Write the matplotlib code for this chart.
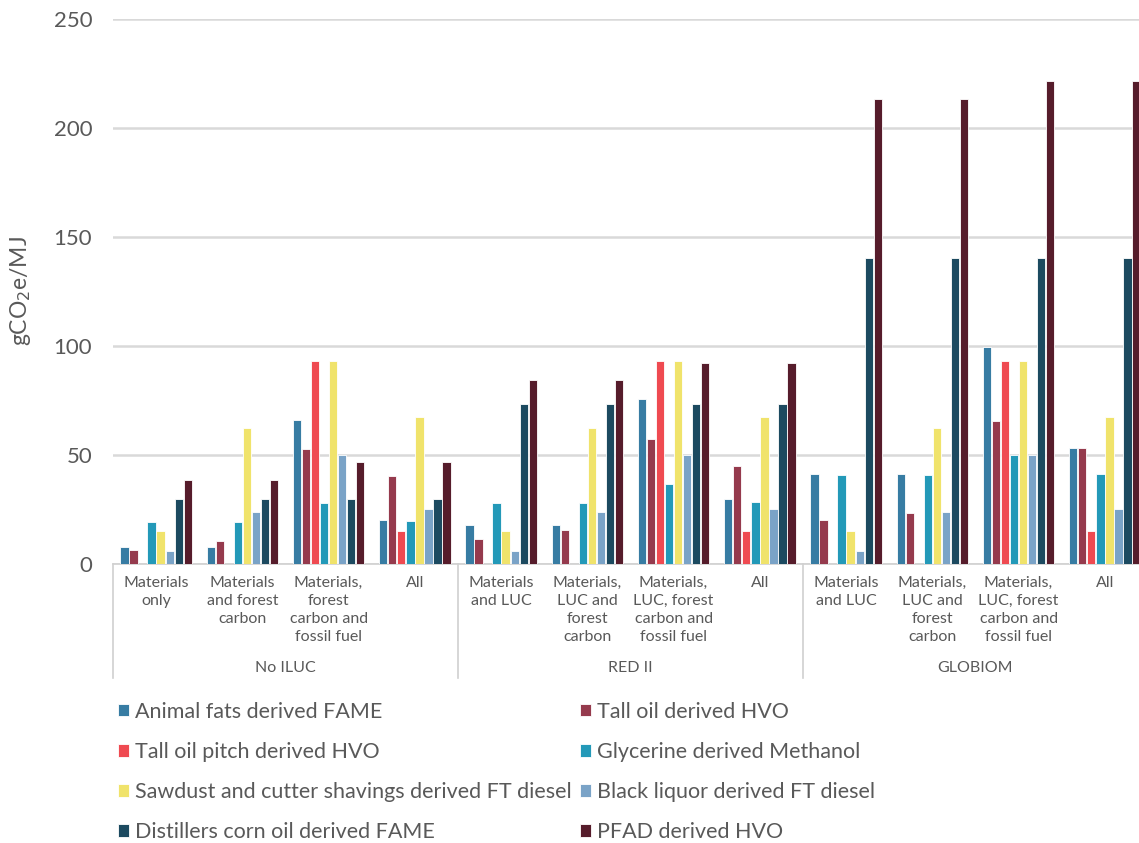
import numpy as np
import matplotlib
matplotlib.use('Agg')
import matplotlib.pyplot as plt

plt.rcParams['font.family'] = ['Lato', 'DejaVu Sans']

series = ['Animal fats derived FAME', 'Tall oil derived HVO', 'Tall oil pitch derived HVO',
          'Glycerine derived Methanol', 'Sawdust and cutter shavings derived FT diesel',
          'Black liquor derived FT diesel', 'Distillers corn oil derived FAME', 'PFAD derived HVO']
colors = ['#377ca3', '#953a4d', '#ef4a51', '#2399b8', '#f0e36b', '#7aa3c7', '#1c4a60', '#561c2b']

categories = ['Materials\nonly', 'Materials\nand forest\ncarbon', 'Materials,\nforest\ncarbon and\nfossil fuel', 'All',
              'Materials\nand LUC', 'Materials,\nLUC and\nforest\ncarbon', 'Materials,\nLUC, forest\ncarbon and\nfossil fuel', 'All',
              'Materials\nand LUC', 'Materials,\nLUC and\nforest\ncarbon', 'Materials,\nLUC, forest\ncarbon and\nfossil fuel', 'All']
scenarios = ['No ILUC', 'RED II', 'GLOBIOM']

animal_fats = [8, 8, 66, 20, 18, 18, 75.5, 29.7, 41.4, 41.4, 99.5, 53.4]
tall_oil = [6.6, 10.5, 52.6, 40.2, 11.5, 15.4, 57.3, 44.8, 20, 23.6, 65.8, 53.4]
tall_oil_pitch = [0, 0, 93, 15, 0, 0, 93, 15, 0, 0, 93, 15]
glycerine = [19.3, 19.3, 28, 19.7, 28, 28, 36.7, 28.4, 41, 41, 50, 41.4]
sawdust = [15, 62.2, 93, 67.3, 15, 62.2, 93, 67.3, 15, 62.2, 93, 67.3]
black_liquor = [5.8, 23.7, 50, 25.2, 5.8, 23.7, 50, 25.2, 5.8, 23.7, 50, 25.2]
distillers = [30, 30, 30, 30, 73.5, 73.5, 73.5, 73.5, 140.3, 140.3, 140.3, 140.3]
pfad = [38.7, 38.7, 46.6, 46.6, 84.2, 84.2, 92, 92, 213.5, 213.5, 221.5, 221.5]
values = [animal_fats, tall_oil, tall_oil_pitch, glycerine, sawdust, black_liquor, distillers, pfad]

W, H = 1139, 843
fig = plt.figure(figsize=(W / 100, H / 100), dpi=100)
ax = fig.add_axes([113 / W, 279 / H, 1035 / W, 545 / H])

x = np.arange(len(categories))
slot = 0.105
bars = []
for j, (name, vals) in enumerate(zip(series, values)):
    b = ax.bar(x + (j - 3.5) * slot, vals, width=slot * 0.92, color=colors[j],
               edgecolor='white', linewidth=0.6, label=name, zorder=3)
    bars.append(b)

ax.set_xlim(-0.5, 11.5)
ax.set_ylim(0, 250)
ax.set_yticks(range(0, 251, 50))
ax.tick_params(axis='y', length=0, pad=15, labelsize=16, labelcolor='#595959')
ax.set_xticks([])
ax.yaxis.grid(True, color='#d9d9d9', linewidth=1.8, zorder=0)
for s in ['top', 'right', 'left']:
    ax.spines[s].set_visible(False)
ax.spines['bottom'].set_color('#d0d0d0')
ax.spines['bottom'].set_linewidth(1.2)
ax.set_ylabel('gCO$_2$e/MJ', fontsize=16.5, color='#595959', va='center')
ax.yaxis.set_label_coords(-93 / 1035, 0.5)

trans = ax.get_xaxis_transform()
sep_bottom = -(678 - 564) / 545
for k in range(4):
    ax.plot([k * 4 - 0.5, k * 4 - 0.5], [0, sep_bottom], transform=trans,
            color='#d0d0d0', linewidth=1.2, clip_on=False)
for i, lab in enumerate(categories):
    ax.text(i, -12 / 545, lab, transform=trans, ha='center', va='top',
            fontsize=11.5, color='#595959', linespacing=1.35)
for k, sc in enumerate(scenarios):
    ax.text(k * 4 + 1.5, -(668 - 564) / 545, sc, transform=trans, ha='center',
            va='center', fontsize=11.5, color='#595959')

leg_kw = dict(frameon=False, fontsize=15.5, labelcolor='#595959', handlelength=0.5,
              handleheight=0.5, handletextpad=0.28, labelspacing=0.93, borderpad=0,
              borderaxespad=0, loc='upper left')
fig.legend([bars[j] for j in (0, 2, 4, 6)], [series[j] for j in (0, 2, 4, 6)],
           bbox_to_anchor=(118 / W, 1 - 702 / H), **leg_kw)
fig.legend([bars[j] for j in (1, 3, 5, 7)], [series[j] for j in (1, 3, 5, 7)],
           bbox_to_anchor=(580 / W, 1 - 702 / H), **leg_kw)

fig.savefig('out.png', dpi=100)
